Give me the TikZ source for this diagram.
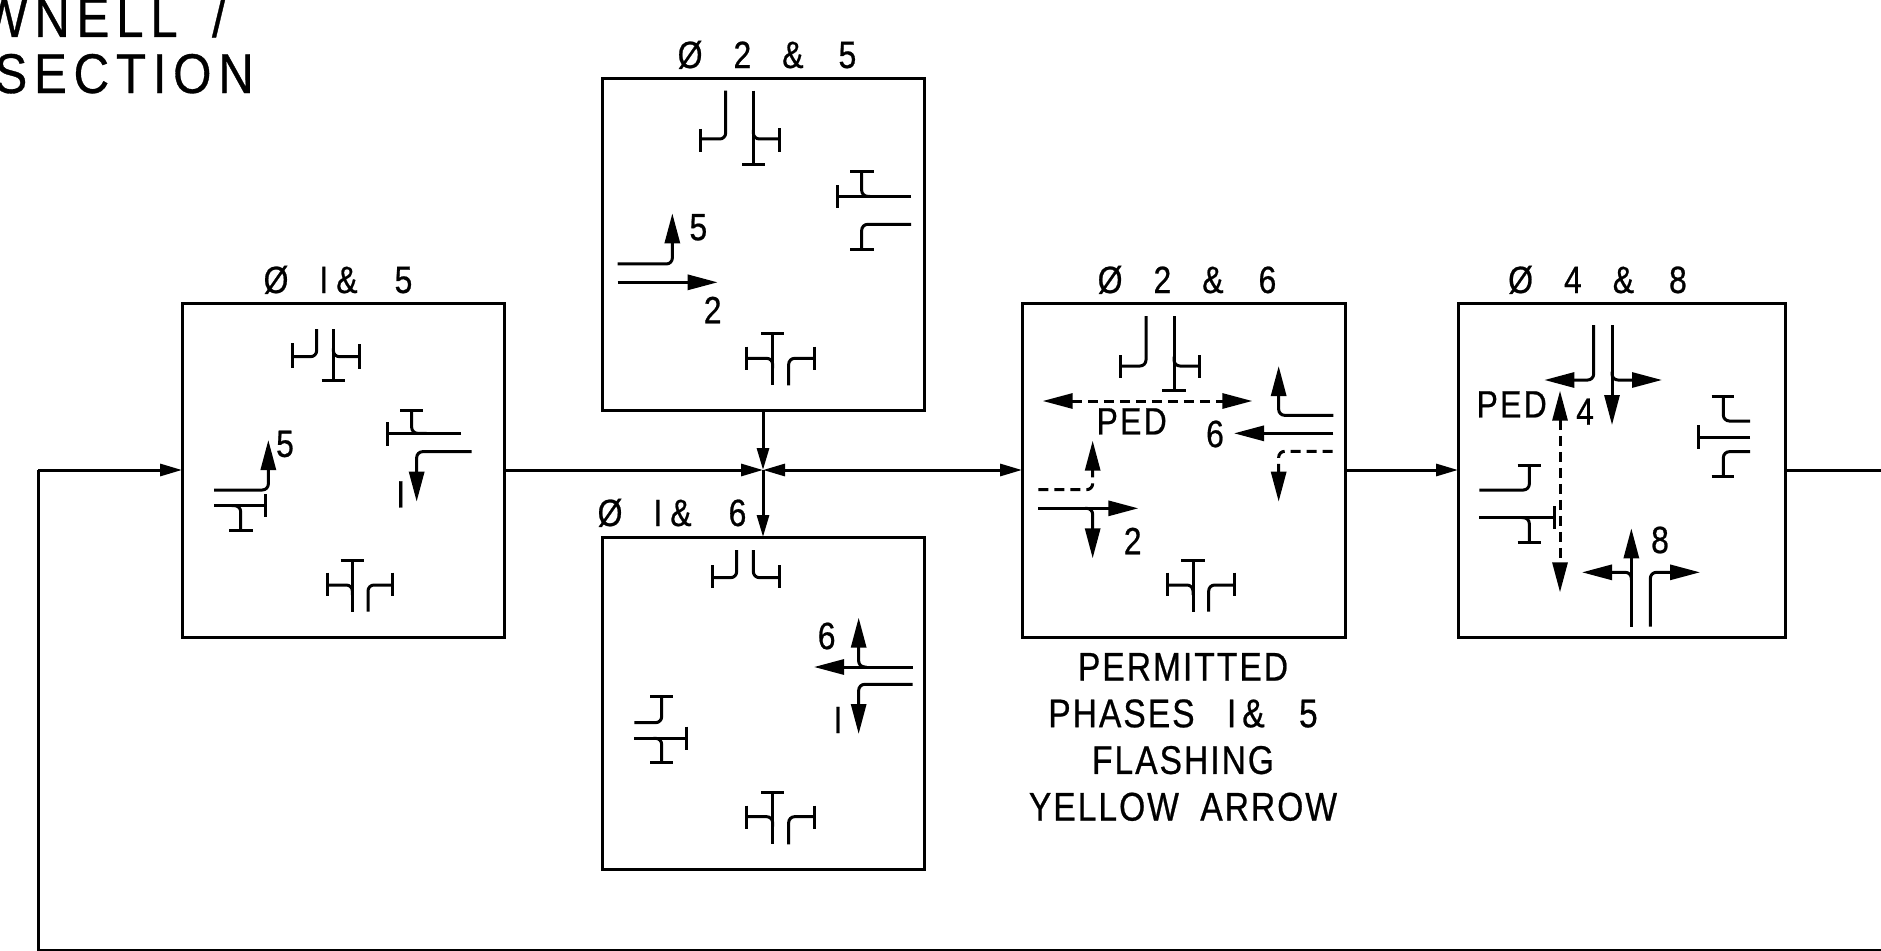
\documentclass[tikz,border=0pt]{standalone}
\usepackage{fontspec}
\setmainfont[FakeStretch=0.82]{Liberation Sans}
\newfontfamily\cadA[FakeStretch=0.84,LetterSpace=6,FakeBold=0.6]{Liberation Sans}
\newfontfamily\cadB[FakeStretch=0.84,LetterSpace=5,FakeBold=0.6]{Liberation Sans}
\newfontfamily\cadC[FakeStretch=0.88,LetterSpace=12,FakeBold=0.6]{Liberation Sans}
\newcommand{\widewords}[1]{{\spaceskip=31pt\relax #1}}
\usetikzlibrary{arrows.meta}
\tikzset{
  phasebox/.style={draw,line width=3pt,inner sep=0pt,outer sep=0pt,minimum width=322pt,minimum height=334pt},
  flow/.style={line width=3pt},
  flowtip/.style={flow,-{Triangle[length=22pt,width=12pt]}},
  flowtwo/.style={flow,{Triangle[length=22pt,width=12pt]}-{Triangle[length=22pt,width=12pt]}},
  lane/.style={line width=3pt,rounded corners=6pt},
  move/.style={lane,-{Triangle[length=30pt,width=15pt]}},
  dashmove/.style={move,dash pattern=on 10pt off 6pt},
  pedmove/.style={line width=3pt,dash pattern=on 10pt off 6pt,{Triangle[length=30pt,width=15pt]}-{Triangle[length=30pt,width=15pt]}},
  ttl/.style={inner sep=0pt,anchor=base,font=\cadA\fontsize{38}{44}\selectfont},
  lab/.style={inner sep=0pt,font=\cadA\fontsize{38}{44}\selectfont},
  note/.style={inner sep=0pt,align=center,font=\cadB\fontsize{40}{46.67}\selectfont},
  big/.style={inner sep=0pt,anchor=base east,font=\cadC\fontsize{56}{60}\selectfont},
  zoomed/.style={x=0.33333pt,y=-0.33333pt}
}
\begin{document}
\begin{tikzpicture}[x=1pt,y=-1pt]
\useasboundingbox (0,0) rectangle (1881,950);
\clip (0,0) rectangle (1881,950);
% heading fragments
\node[big] (headb) at (254,93) {SECTION};
\node[big] (heada) at (226,37) {WNELL\kern14pt{} /};
% phase boxes
\node[phasebox] (bA) at (343,470) {};
\node[phasebox,minimum height=332pt] (bB) at (763,244) {};
\node[phasebox,minimum height=332pt] (bC) at (763,703) {};
\node[phasebox,minimum width=323pt] (bD) at (1183.5,470) {};
\node[phasebox,minimum width=327pt] (bE) at (1621.5,470) {};
% titles
\node[ttl] (tA) at (338,293) {\widewords{Ø I\kern8pt\& \kern6pt{}5}};
\node[ttl] (tB) at (767,68) {\widewords{Ø 2 \&\kern4pt{} 5}};
\node[ttl] (tC) at (672,526) {\widewords{Ø I\kern8pt\& \kern6pt{}6}};
\node[ttl] (tD) at (1187,293) {\widewords{Ø 2 \&\kern4pt{} 6}};
\node[ttl] (tE) at (1597.5,293) {\widewords{Ø 4 \&\kern4pt{} 8}};
% flow
\coordinate (j) at (763,470);
\coordinate (ls) at (38,470);
\coordinate (lb) at (38,950);
\coordinate (re) at (1881,470);
\coordinate (rb) at (1881,950);
\draw[flow] (rb) -- (lb) -- (ls);
\draw[flowtip] (ls) -- (bA.west);
\draw[flowtip] (bA.east) -- (j);
\draw[flowtwo] (j) -- (bD.west);
\draw[flowtip] (bD.east) -- (bE.west);
\draw[flow] (bE.east) -- (re);
\draw[flowtip] (bB.south) -- (j);
\draw[flowtip] (j) -- (bC.north);
% Box A
\begin{scope}[shift={(160,260)},zoomed]
\draw[lane] (397,290) -- (470,290) -- (470,207);
\draw[lane] (397,250) -- (397,325);
\draw[lane] (520,207) -- (520,362);
\draw[lane] (485,362) -- (555,362);
\draw[lane] (520,265) -- (520,290) -- (597,290);
\draw[lane] (597,252) -- (597,326);
\draw[lane] (903,520) -- (682,520);
\draw[lane] (682,487) -- (682,557);
\draw[lane] (755,450) -- (755,520) -- (800,520);
\draw[lane] (720,450) -- (790,450);
\draw[move] (935,575) -- (770,575) -- (770,725);
\node[lab] (aI) at (722,703) {I};
\draw[move] (162,690) -- (325,690) -- (325,540);
\node[lab] (a5) at (375,552) {5};
\draw[lane] (162,737) -- (317,737);
\draw[lane] (317,703) -- (317,772);
\draw[lane] (215,737) -- (242,737) -- (242,812);
\draw[lane] (208,812) -- (278,812);
\draw[lane] (577,900) -- (577,1055);
\draw[lane] (542,900) -- (612,900);
\draw[lane] (503,975) -- (577,975) -- (577,1005);
\draw[lane] (503,938) -- (503,1008);
\draw[lane] (624,1055) -- (624,975) -- (698,975);
\draw[lane] (698,938) -- (698,1008);
\end{scope}
% Box B
\begin{scope}[shift={(590,30)},zoomed]
\draw[lane] (407,182) -- (407,327) -- (330,327);
\draw[lane] (330,297) -- (330,365);
\draw[lane] (490,182) -- (490,403);
\draw[lane] (457,403) -- (525,403);
\draw[lane] (490,300) -- (490,327) -- (568,327);
\draw[lane] (568,295) -- (568,365);
\draw[lane] (963,499) -- (743,499);
\draw[lane] (743,466) -- (743,535);
\draw[lane] (815,425) -- (815,499) -- (840,499);
\draw[lane] (781,425) -- (851,425);
\draw[lane] (963,583) -- (815,583) -- (815,660);
\draw[lane] (781,660) -- (851,660);
\draw[move] (83,702) -- (247,702) -- (247,550);
\node[lab] (b5) at (325,592) {5};
\draw[move] (83,757) -- (383,757);
\node[lab] (b2) at (368,840) {2};
\draw[lane] (548,910) -- (548,1066);
\draw[lane] (513,910) -- (583,910);
\draw[lane] (470,985) -- (548,985) -- (548,1015);
\draw[lane] (470,950) -- (470,1020);
\draw[lane] (596,1066) -- (596,985) -- (672,985);
\draw[lane] (672,950) -- (672,1020);
\end{scope}
% Box C
\begin{scope}[shift={(590,420)},zoomed]
\draw[lane] (440,390) -- (440,473) -- (368,473);
\draw[lane] (368,435) -- (368,505);
\draw[lane] (490,390) -- (490,473) -- (567,473);
\draw[lane] (567,435) -- (567,505);
\draw[move] (968,741) -- (672,741);
\draw[move] (830,741) -- (806,741) -- (806,593);
\draw[move] (968,793) -- (806,793) -- (806,942);
\node[lab] (cI) at (744,900) {I};
\node[lab] (c6) at (710,648) {6};
\draw[lane] (180,830) -- (250,830);
\draw[lane] (215,830) -- (215,908) -- (133,908);
\draw[lane] (133,955) -- (288,955);
\draw[lane] (288,920) -- (288,990);
\draw[lane] (190,955) -- (215,955) -- (215,1028);
\draw[lane] (180,1028) -- (250,1028);
\draw[lane] (548,1115) -- (548,1273);
\draw[lane] (513,1118) -- (583,1118);
\draw[lane] (470,1190) -- (548,1190) -- (548,1220);
\draw[lane] (470,1157) -- (470,1227);
\draw[lane] (596,1273) -- (596,1190) -- (672,1190);
\draw[lane] (672,1157) -- (672,1227);
\end{scope}
% Box D
\begin{scope}[shift={(1010,260)},zoomed]
\draw[lane] (408,168) -- (408,318) -- (332,318);
\draw[lane] (332,285) -- (332,355);
\draw[lane] (492,168) -- (492,392);
\draw[lane] (457,392) -- (527,392);
\draw[lane] (492,290) -- (492,318) -- (568,318);
\draw[lane] (568,285) -- (568,355);
\draw[pedmove] (98,423) -- (727,423);
\node[lab] (dped) at (365,484) {PED};
\node[lab] (d6) at (615,522) {6};
\draw[move] (970,466) -- (806,466) -- (806,318);
\draw[move] (970,520) -- (672,520);
\draw[dashmove] (968,574) -- (806,574) -- (806,725);
\draw[dashmove] (85,689) -- (248,689) -- (248,542);
\draw[move] (85,745) -- (385,745);
\draw[move] (225,745) -- (248,745) -- (248,895);
\node[lab] (d2) at (368,843) {2};
\draw[lane] (549,900) -- (549,1055);
\draw[lane] (514,900) -- (584,900);
\draw[lane] (473,975) -- (549,975) -- (549,1005);
\draw[lane] (473,938) -- (473,1008);
\draw[lane] (596,1055) -- (596,975) -- (673,975);
\draw[lane] (673,938) -- (673,1008);
\end{scope}
\node[note] (perm) at (1183,737) {PERMITTED\\PHASES\kern21pt{} I\kern6pt\&\kern23pt{} 5\\FLASHING\\YELLOW\kern10pt{} ARROW};
% Box E
\begin{scope}[shift={(1450,260)},zoomed]
\draw[move] (431,195) -- (431,360) -- (283,360);
\draw[move] (486,195) -- (486,495);
\draw[move] (486,335) -- (486,360) -- (636,360);
\node[lab] (eped) at (185,433) {PED};
\node[lab] (e4) at (405,455) {4};
\draw[pedmove] (330,392) -- (330,997);
\draw[lane] (88,690) -- (238,690) -- (238,615);
\draw[lane] (203,615) -- (273,615);
\draw[lane] (88,773) -- (312,773);
\draw[lane] (312,738) -- (312,808);
\draw[lane] (215,773) -- (238,773) -- (238,848);
\draw[lane] (203,848) -- (273,848);
\draw[lane] (785,410) -- (853,410);
\draw[lane] (820,410) -- (820,483) -- (900,483);
\draw[lane] (900,531) -- (745,531);
\draw[lane] (745,496) -- (745,566);
\draw[lane] (900,575) -- (820,575) -- (820,650);
\draw[lane] (785,650) -- (853,650);
\draw[move] (544,1100) -- (544,805);
\draw[move] (544,960) -- (544,937) -- (396,937);
\draw[move] (601,1100) -- (601,937) -- (750,937);
\node[lab] (e8) at (630,840) {8};
\end{scope}
\end{tikzpicture}
\end{document}
